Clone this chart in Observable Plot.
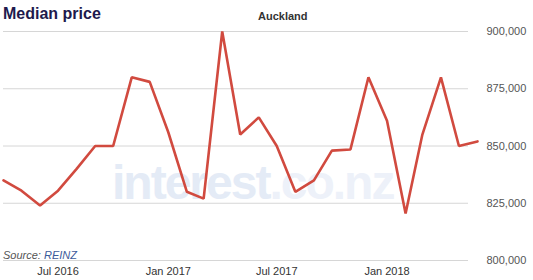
<!DOCTYPE html>
<html>
<head>
<meta charset="utf-8">
<script src="https://cdn.jsdelivr.net/npm/d3@7"></script>
<script src="https://cdn.jsdelivr.net/npm/@observablehq/plot@0.6"></script>
<style>
  html, body { margin: 0; padding: 0; background: #fff; }
  #wrap { position: relative; width: 533px; height: 280px; font-family: "Liberation Sans", Arial, sans-serif; overflow: hidden; }
  #wrap svg { position: absolute; left: 0; top: 0; }
  .title { position: absolute; left: 3px; top: 5px; font-size: 16px; font-weight: bold; color: #1e1a4d; }
  .sub { position: absolute; left: 258px; top: 10px; font-size: 11px; font-weight: bold; color: #333; }
  .src { position: absolute; left: 3px; top: 249px; font-size: 11px; font-style: italic; color: #555; }
  .src span { color: #3d5b9b; }
  .wm { position: absolute; left: 112px; top: 155px; font-size: 48px; font-weight: bold; color: #e4ebf6; letter-spacing: -2px; font-family: "Liberation Sans", Arial, sans-serif; }
  .wm span { color: #edf1f9; }
</style>
</head>
<body>
<div id="wrap">
  <div class="wm">interest<span>.co.nz</span></div>
</div>
<script>
const months = ["2016-04","2016-05","2016-06","2016-07","2016-08","2016-09","2016-10","2016-11","2016-12",
  "2017-01","2017-02","2017-03","2017-04","2017-05","2017-06","2017-07","2017-08","2017-09","2017-10","2017-11","2017-12",
  "2018-01","2018-02","2018-03","2018-04","2018-05","2018-06"];
const prices = [835000, 830500, 824000, 830500, 840000, 850000, 850000, 880000, 878000,
  856000, 830000, 827000, 900000, 855000, 862500, 850000, 830000, 835000, 848000, 848500, 880000,
  861000, 820500, 855000, 880000, 850000, 852000];
const xTicks = ["2016-07","2017-01","2017-07","2018-01"];
const yTicks = [800000, 825000, 850000, 875000, 900000];
const title = "Median price";
const subtitle = "Auckland";
const sourceLabel = "Source: ";
const sourceName = "REINZ";

const parse = d3.utcParse("%Y-%m");
const data = months.map((m, i) => ({date: parse(m), price: prices[i]}));

const chart = Plot.plot({
  width: 533,
  height: 280,
  marginTop: 31,
  marginBottom: 20,
  marginLeft: 3,
  marginRight: 56,
  style: {fontFamily: "Liberation Sans, Arial, sans-serif", fontSize: "11px", background: "transparent", overflow: "visible"},
  x: {type: "utc", domain: [parse(months[0]), parse(months[months.length - 1])]},
  y: {domain: [800000, 900000]},
  marks: [
    Plot.ruleY(yTicks, {stroke: "#d6d6d6", strokeWidth: 1, insetRight: 9}),
    Plot.axisX(xTicks.map(parse), {tickSize: 0, tickPadding: 7, tickFormat: d3.utcFormat("%b %Y"), fill: "#333", label: null}),
    Plot.axisY(yTicks, {anchor: "right", tickSize: 0, tickPadding: 9, tickFormat: d3.format(","), fill: "#555", label: null}),
    Plot.line(data, {x: "date", y: "price", stroke: "#d14a3f", strokeWidth: 2.6, strokeLinejoin: "miter"})
  ]
});
const wrap = document.getElementById("wrap");
wrap.appendChild(chart);
const t = document.createElement("div"); t.className = "title"; t.textContent = title; wrap.appendChild(t);
const s = document.createElement("div"); s.className = "sub"; s.textContent = subtitle; wrap.appendChild(s);
const src = document.createElement("div"); src.className = "src";
src.appendChild(document.createTextNode(sourceLabel));
const sp = document.createElement("span"); sp.textContent = sourceName; src.appendChild(sp);
wrap.appendChild(src);
</script>
</body>
</html>
